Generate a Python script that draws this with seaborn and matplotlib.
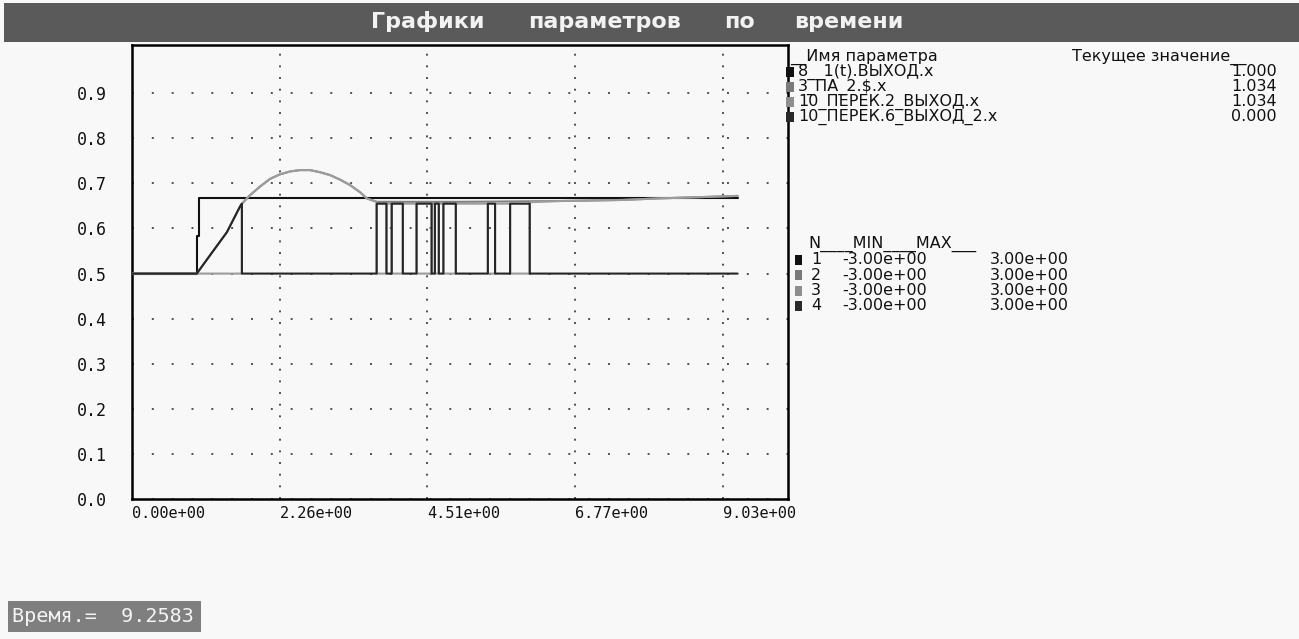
import numpy as np
import pandas as pd
import matplotlib
matplotlib.use("Agg")
import matplotlib.pyplot as plt
from matplotlib.patches import Rectangle
import seaborn as sns

# ---------------- data ----------------
PARAM_NAMES = ["8__1(t).ВЫХОД.x", "3_ПА_2.$.x", "10_ПЕРЕК.2_ВЫХОД.x", "10_ПЕРЕК.6_ВЫХОД_2.x"]
CURRENT_VALUES = ["1.000", "1.034", "1.034", "0.000"]
SERIES_N = ["1", "2", "3", "4"]
VMIN = [-3.0, -3.0, -3.0, -3.0]
VMAX = [3.0, 3.0, 3.0, 3.0]
MIN_LABELS = ["-3.00e+00"] * 4
MAX_LABELS = ["3.00e+00"] * 4
TITLE_WORDS = ["Графики", "параметров", "по", "времени"]

X_TICKS = [0.0, 2.2575, 4.515, 6.7725, 9.03]
X_TICK_LABELS = ["0.00e+00", "2.26e+00", "4.51e+00", "6.77e+00", "9.03e+00"]
Y_TICKS = [0.0, 0.1, 0.2, 0.3, 0.4, 0.5, 0.6, 0.7, 0.8, 0.9]
Y_TICK_LABELS = ["0.0", "0.1", "0.2", "0.3", "0.4", "0.5", "0.6", "0.7", "0.8", "0.9"]
T_END = 9.2583
TIME_LABEL = "Время.=  9.2583"

# series 1: step input 1(t)
t1 = [0.0, 0.99, 0.99, 1.02, 1.02, T_END]
v1 = [0.0, 0.0, 0.5, 0.5, 1.0, 1.0]

# series 2: controller output
t2 = [0.0, 0.99, 1.19, 1.45, 1.65, 1.68, 1.80, 1.96, 2.11, 2.26, 2.42, 2.57, 2.72,
      2.87, 3.03, 3.18, 3.33, 3.49, 3.59, 3.74, 5.0, 6.5, 7.5, 8.03, 8.6, T_END]
v2 = [0.0, 0.0, 0.24, 0.55, 0.89, 0.93, 1.04, 1.16, 1.26, 1.32, 1.36, 1.377, 1.377,
      1.35, 1.31, 1.25, 1.18, 1.08, 1.0, 0.955, 0.955, 0.965, 0.98, 1.0, 1.015, 1.034]

# series 3: switch output 1 (explicit steps)
t3 = [0.0, 1.68, 1.68, 1.80, 1.96, 2.11, 2.26, 2.42, 2.57, 2.72, 2.87, 3.03, 3.18,
      3.33, 3.49, 3.59,
      3.74, 3.74, 3.89, 3.89, 3.97, 3.97, 4.14, 4.14, 4.35, 4.35, 4.58, 4.58,
      4.63, 4.63, 4.69, 4.69, 4.76, 4.76, 4.95, 4.95, 5.44, 5.44, 5.55, 5.55,
      5.78, 5.78, 6.08, 6.08, 6.5, 7.5, 8.03, 8.6, T_END]
v3 = [0.0, 0.0, 0.93, 1.04, 1.16, 1.26, 1.32, 1.36, 1.377, 1.377, 1.35, 1.31, 1.25,
      1.18, 1.08, 1.0,
      0.955, 0.0, 0.0, 0.93, 0.93, 0.0, 0.0, 0.93, 0.93, 0.0, 0.0, 0.93,
      0.93, 0.0, 0.0, 0.93, 0.93, 0.0, 0.0, 0.93, 0.93, 0.0, 0.0, 0.93,
      0.93, 0.0, 0.0, 0.95, 0.965, 0.98, 1.0, 1.015, 1.034]

# series 4: switch output 2 (explicit steps)
t4 = [0.0, 0.99, 1.19, 1.45, 1.65, 1.68, 1.68,
      3.74, 3.74, 3.89, 3.89, 3.97, 3.97, 4.14, 4.14, 4.35, 4.35, 4.58, 4.58,
      4.63, 4.63, 4.69, 4.69, 4.76, 4.76, 4.95, 4.95, 5.44, 5.44, 5.55, 5.55,
      5.78, 5.78, 6.08, 6.08, T_END]
v4 = [0.0, 0.0, 0.24, 0.55, 0.89, 0.93, 0.0,
      0.0, 0.93, 0.93, 0.0, 0.0, 0.93, 0.93, 0.0, 0.0, 0.93, 0.93, 0.0,
      0.0, 0.93, 0.93, 0.0, 0.0, 0.93, 0.93, 0.0, 0.0, 0.93, 0.93, 0.0,
      0.0, 0.93, 0.93, 0.0, 0.0]

LINE_COLORS = ["#111111", "#808080", "#9c9c9c", "#262626"]
SWATCH_COLORS = ["#111111", "#7a7a7a", "#8e8e8e", "#2a2a2a"]

# ---------------- build frame ----------------
frames = []
for i, (tt, vv) in enumerate([(t1, v1), (t2, v2), (t3, v3), (t4, v4)]):
    vv = np.asarray(vv, dtype=float)
    frames.append(pd.DataFrame({
        "t": tt,
        "y": (vv - VMIN[i]) / (VMAX[i] - VMIN[i]),
        "series": SERIES_N[i],
    }))
df = pd.concat(frames, ignore_index=True)

# ---------------- figure ----------------
W, H = 1299, 639
BG = "#f8f8f8"
sns.set_theme(style="white")
plt.rcParams["font.family"] = ["DejaVu Sans Mono", "DejaVu Sans"]

fig = plt.figure(figsize=(W / 100, H / 100), dpi=100, facecolor=BG)


def fx(x):
    return x / W


def fy(y):
    return 1 - y / H


ax = fig.add_axes([fx(132), fy(499), fx(788) - fx(132), fy(45) - fy(499)])
ax.set_facecolor(BG)

for i, s in enumerate(SERIES_N):
    sns.lineplot(data=df[df["series"] == s], x="t", y="y", color=LINE_COLORS[i],
                 estimator=None, sort=False, linewidth=1.5, ax=ax, legend=False,
                 zorder=3 + i)

ax.set_xlim(0, 10.028)
ax.set_ylim(0, 1.007)
ax.set_xticks(X_TICKS)
ax.set_xticklabels(X_TICK_LABELS, ha="left")
ax.set_yticks(Y_TICKS)
ax.set_yticklabels(Y_TICK_LABELS)
ax.set_xlabel("")
ax.set_ylabel("")
ax.tick_params(axis="both", direction="inout", length=8, width=1.5, color="black",
               labelcolor="#111111")
ax.tick_params(axis="x", pad=1, labelsize=11)
ax.tick_params(axis="y", pad=14, labelsize=12)

ax.xaxis.grid(True, linestyle=(0, (1, 5)), linewidth=1.4, color="#505050")
ax.yaxis.grid(True, linestyle=(0, (1, 9.2)), linewidth=1.4, color="#505050")
ax.set_axisbelow(True)
for sp in ax.spines.values():
    sp.set_visible(True)
    sp.set_color("black")
    sp.set_linewidth(1.8)

# header bar
fig.patches.append(Rectangle((fx(4), fy(42)), 1, fy(3) - fy(42), transform=fig.transFigure,
                             facecolor="#5a5a5a", edgecolor="none", zorder=0))
for word, xc in zip(TITLE_WORDS, [428, 605, 740, 849]):
    fig.text(fx(xc), fy(22), word, ha="center", va="center",
             color="#f2f2f2", fontsize=16, fontweight="bold", family="DejaVu Sans")

# table of parameters
TXT = "#111111"
FS = 11.5
SANS = "DejaVu Sans"
fig.text(fx(790), fy(57), "__Имя параметра", ha="left", va="center", fontsize=FS,
         color=TXT, family=SANS)
fig.text(fx(1072), fy(57), "Текущее значение__", ha="left", va="center", fontsize=FS,
         color=TXT, family=SANS)
for i in range(4):
    yy = 71.5 + i * 15
    fig.patches.append(Rectangle((fx(786), fy(yy + 5)), fx(8), fy(0) - fy(10),
                                 transform=fig.transFigure, facecolor=SWATCH_COLORS[i],
                                 edgecolor="none"))
    fig.text(fx(798), fy(yy), PARAM_NAMES[i], ha="left", va="center", fontsize=FS,
             color=TXT, family=SANS)
    fig.text(fx(1277), fy(yy), CURRENT_VALUES[i], ha="right", va="center", fontsize=FS,
             color=TXT, family=SANS)

# table of ranges
fig.text(fx(808), fy(244), "N____MIN____MAX___", ha="left", va="center", fontsize=FS,
         color=TXT, family=SANS)
for i in range(4):
    yy = 259.5 + i * 15.5
    fig.patches.append(Rectangle((fx(795), fy(yy + 5)), fx(7), fy(0) - fy(10),
                                 transform=fig.transFigure, facecolor=SWATCH_COLORS[i],
                                 edgecolor="none"))
    fig.text(fx(811), fy(yy), SERIES_N[i], ha="left", va="center", fontsize=FS,
             color=TXT, family=SANS)
    fig.text(fx(842), fy(yy), MIN_LABELS[i], ha="left", va="center", fontsize=FS,
             color=TXT, family=SANS)
    fig.text(fx(990), fy(yy), MAX_LABELS[i], ha="left", va="center", fontsize=FS,
             color=TXT, family=SANS)

# footer
fig.patches.append(Rectangle((fx(8), fy(632)), fx(201) - fx(8), fy(601) - fy(632),
                             transform=fig.transFigure, facecolor="#7f7f7f", edgecolor="none"))
fig.text(fx(12), fy(616.5), TIME_LABEL, ha="left", va="center", fontsize=14.5,
         color="#f4f4f4", family="DejaVu Sans Mono")

fig.savefig("out.png", dpi=100, facecolor=BG)
